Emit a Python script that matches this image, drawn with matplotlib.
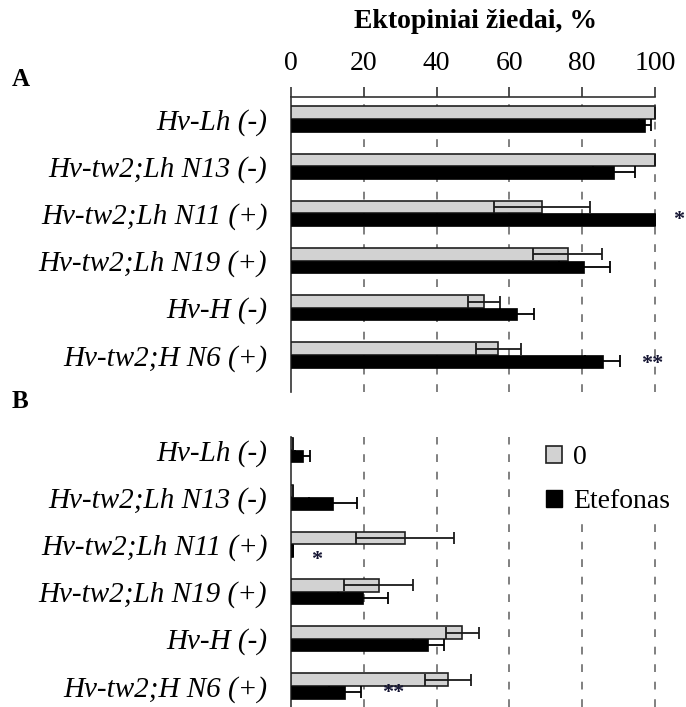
import matplotlib
matplotlib.use("Agg")
import matplotlib.pyplot as plt
from matplotlib.patches import Patch

plt.rcParams['font.family'] = ['Liberation Serif', 'DejaVu Serif']

categories = ["Hv-Lh (-)", "Hv-tw2;Lh N13 (-)", "Hv-tw2;Lh N11 (+)",
              "Hv-tw2;Lh N19 (+)", "Hv-H (-)", "Hv-tw2;H N6 (+)"]
series_names = ["0", "Etefonas"]

# panel A
a_control = [100, 100, 69.0, 76.0, 53.1, 57.0]
a_control_err = [0, 0, 13.2, 9.4, 4.4, 6.3]
a_eth = [97.3, 88.7, 100, 80.6, 62.1, 85.6]
a_eth_err = [1.6, 5.8, 0, 7.0, 4.7, 4.9]

# panel B
b_control = [0.6, 0.6, 31.3, 24.1, 47.1, 43.2]
b_control_err = [0, 0, 13.4, 9.5, 4.6, 6.3]
b_eth = [3.2, 11.6, 0.6, 19.8, 37.7, 14.8]
b_eth_err = [2.0, 6.6, 0, 6.8, 4.3, 4.4]

xticks = [0, 20, 40, 60, 80, 100]

W, H = 686, 707
fig = plt.figure(figsize=(W / 100, H / 100), dpi=100)

def px_axes(left, top, right, bottom):
    return fig.add_axes([left / W, 1 - bottom / H, (right - left) / W, (bottom - top) / H])

x_right = 291 + 101 * 3.64
axA = px_axes(291, 97, x_right, 392)
axB = px_axes(291, 437, x_right, 707)

gray = '#d2d2d2'
h = 0.265
pos = list(range(len(categories)))

def draw(ax, ctrl, ctrl_err, eth, eth_err):
    ax.barh([p - h / 2 for p in pos], ctrl, height=h, color=gray,
            edgecolor='#202020', linewidth=1.2, zorder=3)
    ax.barh([p + h / 2 for p in pos], eth, height=h, color='black',
            edgecolor='black', linewidth=0.5, zorder=3)
    ax.errorbar(ctrl, [p - h / 2 for p in pos], xerr=ctrl_err, fmt='none',
                ecolor='#1a1a1a', elinewidth=1.3, capsize=4.5, capthick=1.3, zorder=4)
    ax.errorbar(eth, [p + h / 2 for p in pos], xerr=eth_err, fmt='none',
                ecolor='black', elinewidth=1.3, capsize=4.5, capthick=1.3, zorder=4)
    ax.set_xlim(0, 101)
    for x in xticks[1:]:
        ax.axvline(x, color='#808080', linestyle=(0, (4, 5)), linewidth=1.4, zorder=1)
    ax.set_yticks(pos)
    ax.set_yticklabels(categories, fontsize=21, style='italic')
    ax.tick_params(axis='y', length=0, pad=17)
    for s in ['right', 'bottom', 'top']:
        ax.spines[s].set_visible(False)
    ax.spines['left'].set_linewidth(1.2)
    ax.spines['left'].set_color('#333333')

draw(axA, a_control, a_control_err, a_eth, a_eth_err)
draw(axB, b_control, b_control_err, b_eth, b_eth_err)

axA.set_ylim(5.784, -0.466)
axB.set_ylim(5.445, -0.275)

axA.xaxis.tick_top()
axA.spines['top'].set_visible(True)
axA.spines['top'].set_bounds(0, 100)
axA.spines['top'].set_linewidth(1.2)
axA.spines['top'].set_color('#333333')
axA.set_xticks(xticks)
axA.set_xticklabels([str(t) for t in xticks], fontsize=20)
axA.tick_params(axis='x', direction='out', length=7, width=1.2, color='#333333', pad=8)
axB.set_xticks([])

star_kw = dict(fontsize=16, fontweight='bold', color='#141432', ha='center', va='center')
axA.text(106.5, 2 + h / 2, '*', clip_on=False, **star_kw)
axA.text(99.2, 5 + h / 2 + 0.05, '**', **star_kw)
axB.text(7.1, 2 + h / 2 + 0.2, '*', **star_kw)
axB.text(28.0, 5 + h / 2 + 0.02, '**', **star_kw)

fig.text(476 / W, 1 - 22 / H, 'Ektopiniai žiedai, %', fontsize=20, fontweight='bold',
         ha='center', va='center')
fig.text(12 / W, 1 - 80 / H, 'A', fontsize=18, fontweight='bold', ha='left', va='center')
fig.text(12 / W, 1 - 401 / H, 'B', fontsize=18, fontweight='bold', ha='left', va='center')

handles = [Patch(facecolor=gray, edgecolor='#202020', linewidth=1.2),
           Patch(facecolor='black', edgecolor='black')]
leg = axB.legend(handles, series_names, loc='upper left',
                 bbox_to_anchor=(538 / W, 1 - 437 / H), bbox_transform=fig.transFigure,
                 fontsize=20, frameon=True, fancybox=False, framealpha=1,
                 facecolor='white', edgecolor='none', borderpad=0.3, borderaxespad=0,
                 handlelength=0.55, handleheight=0.55, handletextpad=0.4, labelspacing=0.68)
leg.set_zorder(10)

fig.savefig('out.png', dpi=100)
